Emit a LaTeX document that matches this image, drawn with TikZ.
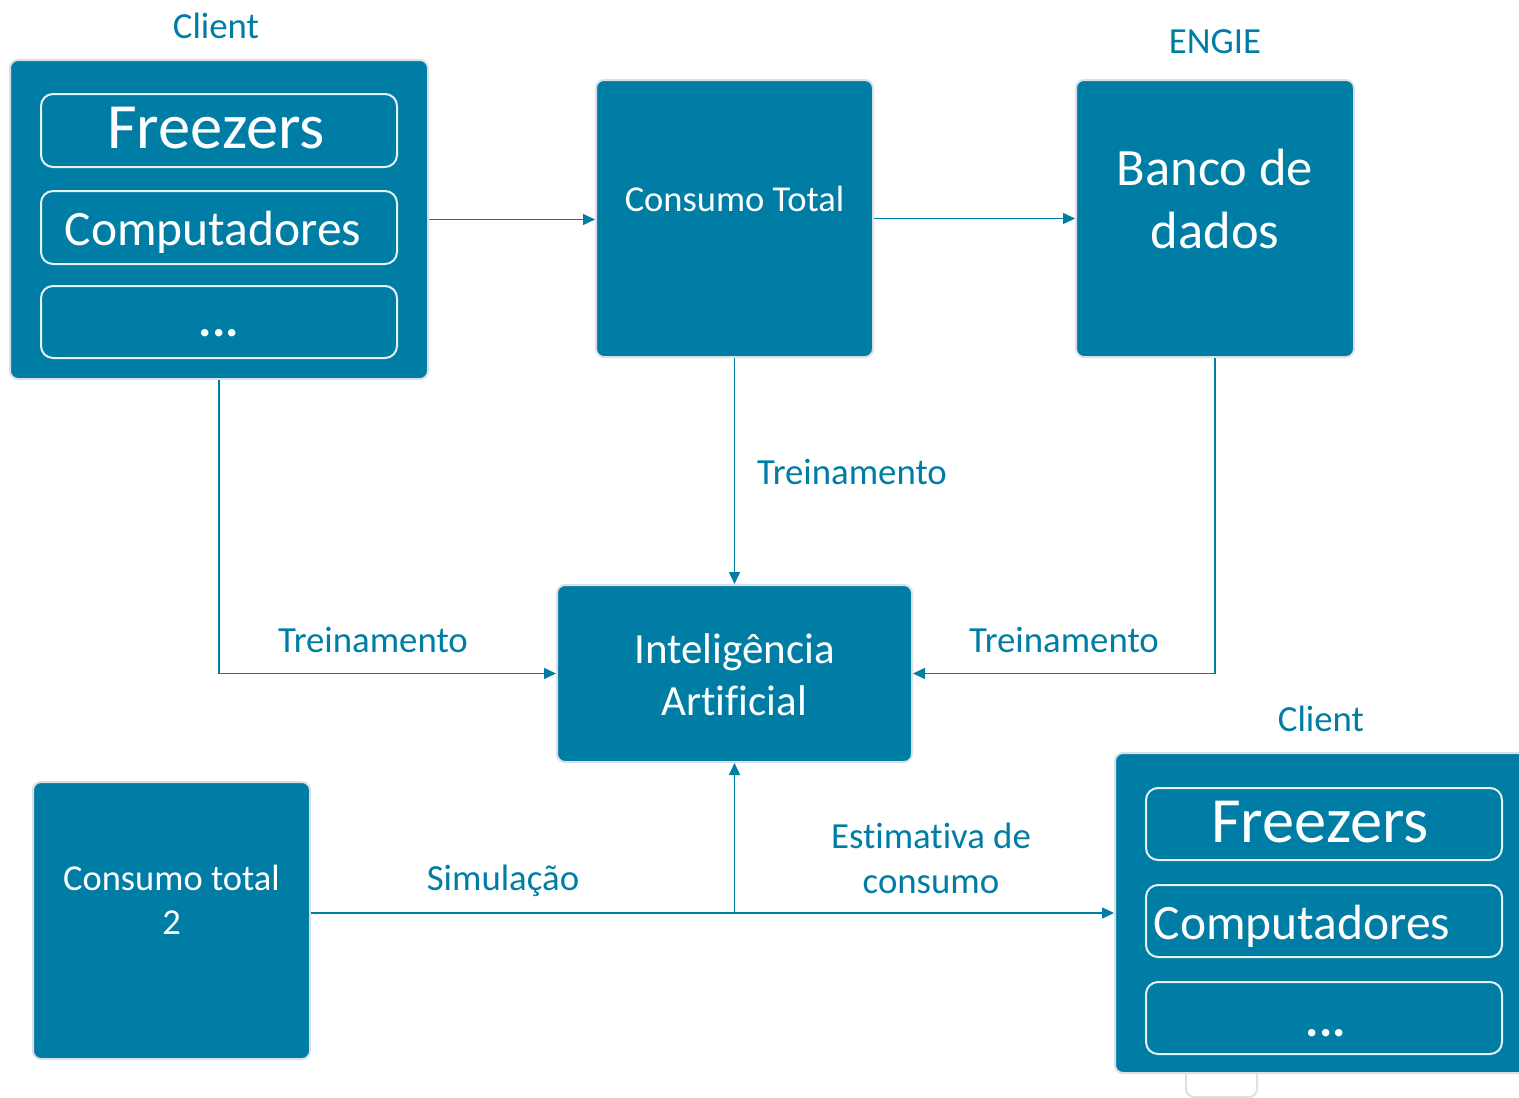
\documentclass[tikz,border=0pt]{standalone}
\usepackage{fontspec}
\setmainfont[Ligatures=NoCommon]{Carlito}
\usetikzlibrary{arrows.meta}
\definecolor{eblue}{RGB}{0,125,165}
\definecolor{eborder}{RGB}{218,224,230}
\begin{document}
\begin{tikzpicture}[x=1pt,y=-1pt,
  box/.style={draw=eborder, line width=2pt, fill=eblue, rounded corners=8pt, inner sep=0pt},
  inbox/.style={draw=white!90!eblue, line width=2pt, rounded corners=12pt, inner sep=0pt},
  tabbox/.style={draw=eborder, line width=2pt, fill=white, rounded corners=8pt, inner sep=0pt},
  wt/.style={text=white, anchor=base, inner sep=0pt},
  lbl/.style={text=eblue, anchor=base, inner sep=0pt, font=\fontsize{36.8}{44}\selectfont},
  conn/.style={draw=eblue, line width=1.5pt},
  arr/.style={conn, -{Triangle[length=12pt,width=11pt]}}]
\useasboundingbox (0,0) rectangle (1519,1098);
\clip (0,0) rectangle (1519,1098);

% tab under second client box
\node[tabbox, minimum width=71pt, minimum height=40pt] (tab) at (1221.5,1077) {};

% main boxes
\node[box, minimum width=418pt, minimum height=319pt] (c1) at (219,219.5) {};
\node[box, minimum width=277pt, minimum height=277pt] (ct) at (734.5,218.5) {};
\node[box, minimum width=278pt, minimum height=277pt] (db) at (1215,218.5) {};
\node[box, minimum width=355pt, minimum height=177pt] (ia) at (734.5,673.5) {};
\node[box, minimum width=277pt, minimum height=277pt] (ct2) at (171.5,920.5) {};
\node[box, minimum width=445pt, minimum height=320pt] (c2) at (1337.5,913) {};

% inner boxes client 1
\node[inbox, minimum width=356pt, minimum height=73pt] (c1a) at (219,130.5) {};
\node[inbox, minimum width=356pt, minimum height=73pt] (c1b) at (219,227.5) {};
\node[inbox, minimum width=356pt, minimum height=72pt] (c1c) at (219,322) {};
% inner boxes client 2
\node[inbox, minimum width=356pt, minimum height=72pt] (c2a) at (1324,824) {};
\node[inbox, minimum width=356pt, minimum height=72pt] (c2b) at (1324,921) {};
\node[inbox, minimum width=356pt, minimum height=72pt] (c2c) at (1324,1018) {};

% white texts
\node[wt, font=\fontsize{64.5}{70}\selectfont] (t1) at (216,148) {Freezers};
\node[wt, font=\fontsize{49.5}{56}\selectfont] (t2) at (213,245) {Computadores};
\node[wt, font=\fontsize{50}{56}\selectfont\bfseries] (t3) at (219,336) {...};
\node[wt, font=\fontsize{64.5}{70}\selectfont] (t4) at (1320,842) {Freezers};
\node[wt, font=\fontsize{49.5}{56}\selectfont] (t5) at (1302,939) {Computadores};
\node[wt, font=\fontsize{50}{56}\selectfont\bfseries] (t6) at (1326,1036) {...};
\node[wt, font=\fontsize{36.5}{44}\selectfont] (t7) at (734.5,211) {Consumo Total};
\node[wt, font=\fontsize{52.5}{64}\selectfont] (t8) at (1215,185) {Banco de};
\node[wt, font=\fontsize{52.5}{64}\selectfont] (t9) at (1215,248) {dados};
\node[wt, font=\fontsize{43}{52}\selectfont] (t10) at (734.5,663) {Inteligência};
\node[wt, font=\fontsize{43}{52}\selectfont] (t11) at (734.5,715) {Artificial};
\node[wt, font=\fontsize{36.5}{44}\selectfont] (t12) at (171.5,890) {Consumo total};
\node[wt, font=\fontsize{36.5}{44}\selectfont] (t13) at (171.5,934) {2};

% blue labels
\node[lbl] (l1) at (216,38) {Client};
\node[lbl] (l2) at (1215,53) {ENGIE};
\node[lbl] (l3) at (1321,731) {Client};
\node[lbl] (l4) at (852,484) {Treinamento};
\node[lbl] (l5) at (373,652) {Treinamento};
\node[lbl] (l6) at (1064,652) {Treinamento};
\node[lbl] (l7) at (503,890) {Simulação};
\node[lbl] (l8) at (931,848) {Estimativa de};
\node[lbl] (l9) at (931,893) {consumo};

% connectors
\draw[arr] (c1.east) -- (c1.east -| ct.west);
\draw[arr] (ct.east) -- (db.west);
\draw[arr] (ct.south) -- (ia.north);
\draw[arr] (c1.south) |- (ia.west);
\draw[arr] (db.south) |- (ia.east);
\coordinate (j) at (ia.south |- c2.west);
\draw[conn] (ct2.east |- c2.west) -- (j);
\draw[arr] (j) -- (ia.south);
\draw[arr] (j) -- (c2.west);
\end{tikzpicture}
\end{document}
